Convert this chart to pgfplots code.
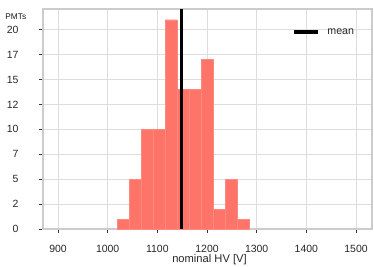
\documentclass[border=0pt]{standalone}
\usepackage{fontspec}
\setmainfont{Liberation Sans}
\usepackage{pgfplots}
\pgfplotsset{compat=1.18}
\definecolor{barc}{RGB}{255,116,104}
\definecolor{gridc}{RGB}{221,221,221}
\definecolor{spinec}{RGB}{204,204,204}
\begin{document}
\begin{tikzpicture}
\useasboundingbox (-43bp,-38bp) rectangle (331bp,229bp);
\begin{axis}[
  scale only axis,
  width=329bp, height=220bp,
  xmin=869.8, xmax=1532.2,
  ymin=0, ymax=22.07,
  xtick={900,1000,...,1500},
  ytick={0,2.5,5,7.5,10,12.5,15,17.5,20},
  yticklabels={0,2,5,7,10,12,15,17,20},
  /pgf/number format/assume math mode=true,
  /pgf/number format/set thousands separator={},
  grid=major,
  major grid style={gridc, line width=0.8bp},
  axis line style={spinec, line width=1.2bp},
  tick align=outside,
  xtick pos=bottom, ytick pos=left,
  major tick length=4bp,
  major tick style={black!80, line width=0.6bp},
  ticklabel style={font=\fontsize{10.5}{12}\selectfont, text=black!85},
  yticklabel style={anchor=east, inner sep=0pt, xshift=-20.3bp},
  xticklabel style={anchor=base, inner sep=0pt, yshift=-19bp},
  legend style={draw=none, fill=none, inner sep=0pt, outer sep=0pt,
    at={(0.759,0.895)}, anchor=west, font=\fontsize{10.7}{12}\selectfont,
    text=black!85, nodes={inner sep=0pt},
    /tikz/every odd column/.append style={column sep=7.5bp}},
  legend image code/.code={\draw[#1] (0bp,0bp) -- (24bp,0bp);},
]
\addplot[ybar interval, fill=barc, draw=barc!85!white, line width=0.3bp, forget plot] coordinates {
 (1019.0,1) (1043.2,5) (1067.4,10) (1091.5,10) (1115.7,21) (1139.9,14)
 (1164.1,14) (1188.3,17) (1212.4,2) (1236.6,5) (1260.8,1) (1285.0,1)
};
\addplot[black, line width=3.2bp] coordinates {(1148,0) (1148,22.07)};
\addlegendentry{mean}
\end{axis}
\node[anchor=base, inner sep=0pt, font=\fontsize{8.3}{10}\selectfont, text=black!90] at (-27.2bp,209bp) {PMTs};
\node[anchor=base, inner sep=0pt, font=\fontsize{11.2}{13}\selectfont, text=black!85] at (166.5bp,-33bp) {nominal HV [V]};
\end{tikzpicture}
\end{document}
